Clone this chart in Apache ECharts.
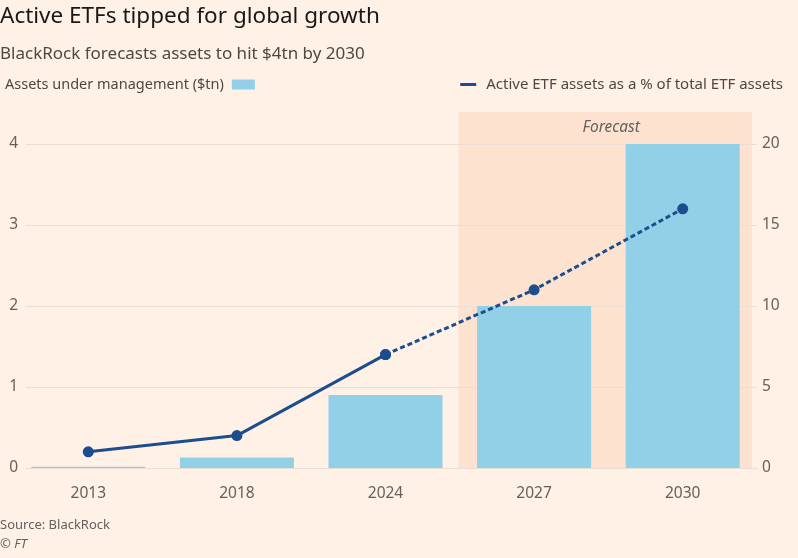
<!DOCTYPE html>
<html>
    <head>
        <meta charset="utf-8" />
        <title>ECharts</title>
        <script src="https://cdn.jsdelivr.net/npm/echarts@6.0.0/dist/echarts.min.js"></script>
        <style>
            body { margin: 0; background: #FFF1E5; }
        </style>
    </head>
    <body>
        <div id="main" style="width: 798px;height: 558px;"></div>
        <script type="text/javascript">
            const years = ['2013', '2018', '2024', '2027', '2030'];
            const assets = [0.015, 0.13, 0.9, 2.0, 4.0];
            const shareActual = [1, 2, 7, null, null];
            const shareForecast = [null, null, 7, 11, 16];
            const forecastFrom = '2027';
            const forecastTo = '2030';

            const BAR_NAME = 'Assets under management ($tn)';
            const LINE_NAME = 'Active ETF assets as a % of total ETF assets';

            const FONT = 'Noto Sans';
            const TEXT = '#66605C';
            const LINE_COLOR = '#1B4D8F';
            const BAR_COLOR = '#91D0E6';

            const myChart = echarts.init(document.getElementById('main'));

            const option = {
                backgroundColor: '#FFF1E5',
                textStyle: { fontFamily: FONT },
                title: [
                    {
                        text: 'Active ETFs tipped for global growth',
                        left: -5, top: 0,
                        textStyle: { fontFamily: FONT, fontSize: 22.5, fontWeight: 'normal', color: '#1A1817' }
                    },
                    {
                        text: 'BlackRock forecasts assets to hit $4tn by 2030',
                        left: -5, top: 41,
                        textStyle: { fontFamily: FONT, fontSize: 17, fontWeight: 'normal', color: '#4D4845' }
                    },
                    {
                        text: 'Source: BlackRock',
                        left: -5, top: 514,
                        textStyle: { fontFamily: FONT, fontSize: 13, fontWeight: 'normal', color: '#66605C' }
                    },
                    {
                        text: '© FT',
                        left: -5, top: 533,
                        textStyle: { fontFamily: FONT, fontSize: 13, fontWeight: 'normal', fontStyle: 'italic', color: '#66605C' }
                    }
                ],
                legend: [
                    {
                        data: [BAR_NAME],
                        left: 0, top: 72,
                        align: 'right',
                        icon: 'rect',
                        itemWidth: 23, itemHeight: 10,
                        textStyle: { fontFamily: FONT, fontSize: 14.5, color: '#4D4845', padding: [0, 3, 0, 0] }
                    },
                    {
                        data: [LINE_NAME],
                        right: 10, top: 72,
                        icon: 'rect',
                        itemWidth: 16, itemHeight: 3,
                        textStyle: { fontFamily: FONT, fontSize: 15, color: '#4D4845', padding: [0, 0, 0, 5] }
                    }
                ],
                grid: [
                    { left: 14, right: 41, top: 144, bottom: 90 },
                    { left: 26, right: 41, top: 144, bottom: 90 },
                    { left: 18, right: 46, top: 112, bottom: 90 }
                ],
                xAxis: [
                    {
                        type: 'category', gridIndex: 0, data: years,
                        axisLine: { show: false },
                        axisTick: { alignWithLabel: true, length: 6, lineStyle: { color: '#C9BFB6' } },
                        axisLabel: { fontFamily: FONT, fontSize: 15.5, color: TEXT, margin: 18 }
                    },
                    {
                        type: 'category', gridIndex: 1, data: years,
                        axisLine: { lineStyle: { color: '#D2C6BB' } },
                        axisTick: { show: false },
                        axisLabel: { show: false }
                    },
                    {
                        type: 'category', gridIndex: 2, data: years, show: false
                    }
                ],
                yAxis: [
                    {
                        type: 'value', gridIndex: 0, min: 0, max: 4, interval: 1, show: false
                    },
                    {
                        type: 'value', gridIndex: 0, position: 'right', min: 0, max: 20, interval: 5,
                        axisLine: { show: false },
                        axisTick: { show: false },
                        splitLine: { show: false },
                        axisLabel: { fontFamily: FONT, fontSize: 15.5, color: TEXT, margin: 5 }
                    },
                    {
                        type: 'value', gridIndex: 1, min: 0, max: 4, interval: 1, z: 1.5,
                        axisLine: { show: false },
                        axisTick: { show: false },
                        splitLine: { lineStyle: { color: '#EBDED3' } },
                        axisLabel: { fontFamily: FONT, fontSize: 15.5, color: TEXT, margin: 8 }
                    },
                    {
                        type: 'value', gridIndex: 2, min: 0, max: 1, show: false
                    }
                ],
                series: [
                    {
                        type: 'bar',
                        xAxisIndex: 2, yAxisIndex: 3,
                        data: [],
                        silent: true,
                        markArea: {
                            silent: true,
                            itemStyle: { color: '#FDE3CF' },
                            label: {
                                show: true,
                                position: 'insideTop',
                                distance: 8,
                                offset: [6, 0],
                                fontFamily: FONT, fontSize: 15.5, fontStyle: 'italic', color: TEXT
                            },
                            data: [[
                                { name: 'Forecast', xAxis: forecastFrom, yAxis: 0 },
                                { xAxis: forecastTo, yAxis: 1 }
                            ]]
                        }
                    },
                    {
                        type: 'bar',
                        name: BAR_NAME,
                        xAxisIndex: 0, yAxisIndex: 0,
                        data: assets,
                        barWidth: 114,
                        itemStyle: { color: BAR_COLOR },
                        z: 2
                    },
                    {
                        type: 'line',
                        name: LINE_NAME,
                        xAxisIndex: 0, yAxisIndex: 1,
                        data: shareActual,
                        symbol: 'circle', symbolSize: 11,
                        itemStyle: { color: LINE_COLOR },
                        lineStyle: { color: LINE_COLOR, width: 3 },
                        z: 3
                    },
                    {
                        type: 'line',
                        name: LINE_NAME,
                        xAxisIndex: 0, yAxisIndex: 1,
                        data: shareForecast,
                        symbol: 'circle', symbolSize: 11,
                        itemStyle: { color: LINE_COLOR },
                        lineStyle: { color: LINE_COLOR, width: 3, type: [5, 3] },
                        z: 3
                    }
                ]
            };
            myChart.setOption(option);
        </script>
    </body>
</html>
